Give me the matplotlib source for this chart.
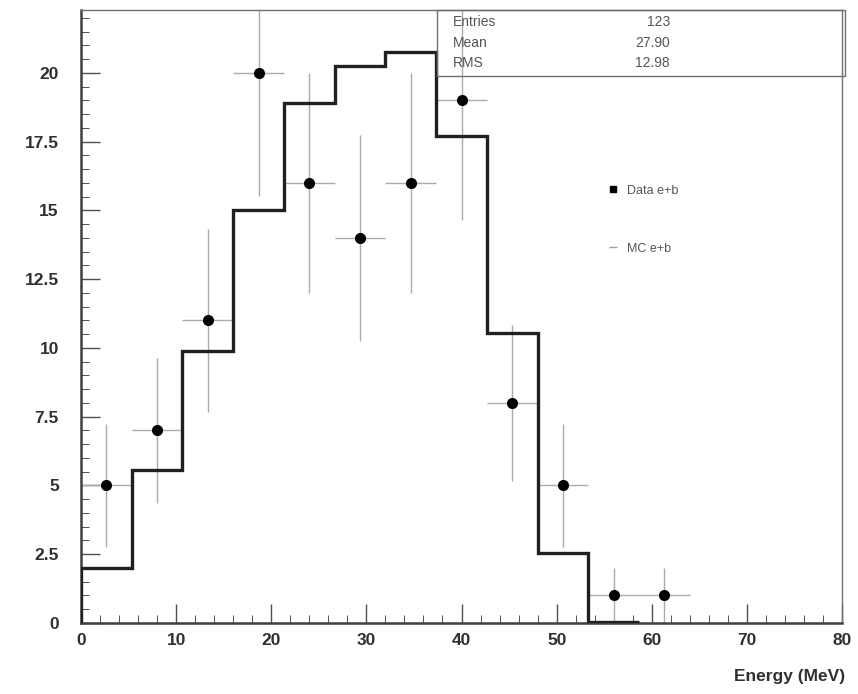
import numpy as np
import matplotlib.pyplot as plt
from matplotlib.lines import Line2D
from matplotlib.patches import Rectangle
from matplotlib.ticker import MultipleLocator

# 15 bins of 80/15 MeV
bin_edges = [0, 5.333, 10.667, 16.0, 21.333, 26.667, 32.0, 37.333, 42.667, 48.0, 53.333, 58.667]
mc_counts = [2.0, 5.55, 9.9, 15.0, 18.9, 20.25, 20.75, 17.7, 10.55, 2.55, 0.05]

data_x = [2.667, 8.0, 13.333, 18.667, 24.0, 29.333, 34.667, 40.0, 45.333, 50.667, 56.0, 61.333]
data_y = [5, 7, 11, 20, 16, 14, 16, 19, 8, 5, 1, 1]

stat_names = ["Entries", "Mean", "RMS"]
stat_values = ["123", "27.90", "12.98"]

plt.rcParams['font.family'] = ['Liberation Sans', 'DejaVu Sans']

fig = plt.figure(figsize=(8.58, 6.94), dpi=100)
ax = fig.add_axes([0.0944, 0.1023, 0.887, 0.884])

dy = np.sqrt(np.array(data_y, dtype=float))
dx = 80 / 15 / 2
ax.errorbar(data_x, data_y, yerr=dy, xerr=dx, fmt='none', ecolor='#ababab',
            elinewidth=1.0, capsize=0, zorder=2)
ax.plot(data_x, data_y, 'o', color='black', markersize=7, zorder=4)

ax.stairs(mc_counts, bin_edges, color='#202020', linewidth=2.4, baseline=None, zorder=3)
ax.plot([bin_edges[0], bin_edges[0]], [0, mc_counts[0]], color='#202020', lw=2.4, zorder=3)

ax.set_xlim(0, 80)
ax.set_ylim(0, 22.3)
ax.xaxis.set_major_locator(MultipleLocator(10))
ax.xaxis.set_minor_locator(MultipleLocator(2))
ax.yaxis.set_major_locator(MultipleLocator(2.5))
ax.yaxis.set_minor_locator(MultipleLocator(0.5))
ax.yaxis.set_major_formatter(plt.FuncFormatter(lambda v, p: f"{v:g}"))
ax.tick_params(which='both', direction='in', top=False, right=False,
               colors='#505050', labelcolor='#303030')
ax.tick_params(which='major', length=14, width=1.0, labelsize=12.5)
ax.tick_params(axis='y', which='major', pad=16)
ax.tick_params(axis='x', which='major', pad=7)
ax.tick_params(which='minor', length=6, width=0.7)
for lab in ax.get_xticklabels() + ax.get_yticklabels():
    lab.set_fontweight('bold')
for side in ['left', 'bottom']:
    ax.spines[side].set_linewidth(1.8)
    ax.spines[side].set_color('#404040')
for side in ['top', 'right']:
    ax.spines[side].set_linewidth(1.0)
    ax.spines[side].set_color('#707070')

ax.set_xlabel("Energy (MeV)", fontsize=12.5, fontweight='bold', color='#303030')
ax.xaxis.set_label_coords(1.004, -0.075)
ax.xaxis.label.set_horizontalalignment('right')

# stats box
box_left, box_bottom = 0.468, 0.8916
ax.add_patch(Rectangle((box_left, box_bottom), 1.004 - box_left, 1.0 - box_bottom,
                       transform=ax.transAxes, fill=False, edgecolor='#707070',
                       lw=1.0, clip_on=False, zorder=5))
for i, (n, v) in enumerate(zip(stat_names, stat_values)):
    yy = 0.980 - i * 0.034
    ax.text(box_left + 0.02, yy, n, transform=ax.transAxes, fontsize=10,
            color='#555555', va='center', ha='left')
    ax.text(0.774, yy, v, transform=ax.transAxes, fontsize=10,
            color='#555555', va='center', ha='right')

handles = [Line2D([], [], marker='s', color='black', ls='none', markersize=5),
           Line2D([], [], marker='_', color='#a0a0a0', ls='none', markersize=6)]
ax.legend(handles, ["Data e+b", "MC e+b"], loc='upper left',
          bbox_to_anchor=(0.672, 0.733), frameon=False, fontsize=9,
          labelspacing=3.7, handlelength=1.5, handletextpad=0.4,
          labelcolor='#555555')

fig.savefig("out.png", dpi=100)
